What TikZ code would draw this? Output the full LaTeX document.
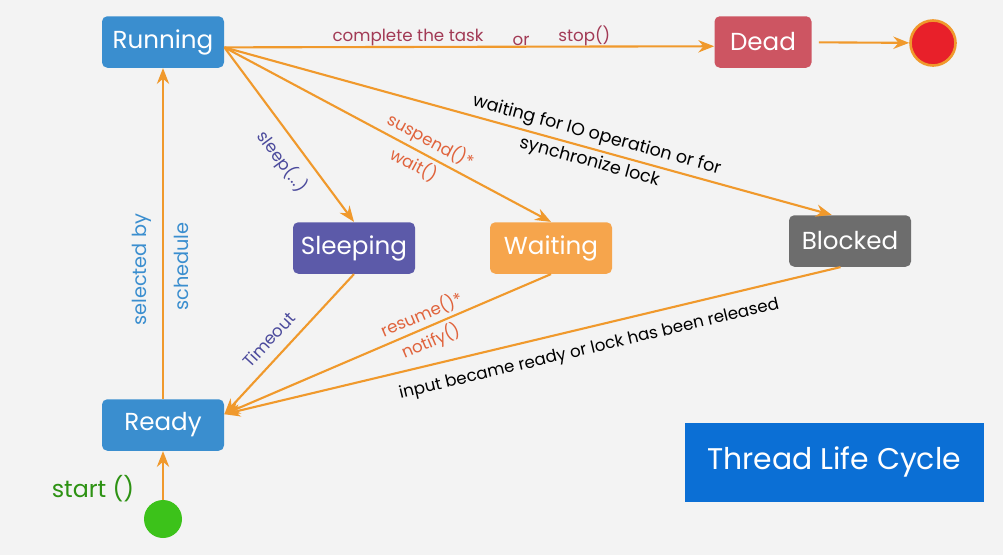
\documentclass[tikz,border=0pt]{standalone}
\usepackage{fontspec}
\setmainfont{Poppins}
\usetikzlibrary{arrows.meta}

\definecolor{bgray}{HTML}{F3F3F3}
\definecolor{runblue}{HTML}{3A8ECF}
\definecolor{deadred}{HTML}{CD5562}
\definecolor{sleeppurple}{HTML}{5C5AA9}
\definecolor{waitorange}{HTML}{F6A54C}
\definecolor{blockgray}{HTML}{6D6D6D}
\definecolor{arrorange}{HTML}{F0992C}
\definecolor{titleblue}{HTML}{0B6FD5}
\definecolor{taskred}{HTML}{A23A55}
\definecolor{suspred}{HTML}{E0633C}
\definecolor{lblpurple}{HTML}{4B4A9C}
\definecolor{startgreen}{HTML}{3CC21A}
\definecolor{endred}{HTML}{E8202A}

\begin{document}
\begin{tikzpicture}[
    state/.style={rectangle, rounded corners=3pt, inner sep=0pt, minimum width=2.44cm, minimum height=1.03cm, text=white, font=\fontsize{14}{16}\selectfont},
    flow/.style={draw=arrorange, line width=1.2pt, -{Stealth[length=9pt,width=7pt]}},
    lbl/.style={font=\fontsize{9.5}{11}\selectfont, inner sep=2pt}
]
    \fill[bgray] (0,0) rectangle (20.06,11.1);

    % states
    \node[state, fill=runblue] (Running) at (3.26,10.26) {Running};
    \node[state, fill=deadred, minimum width=1.94cm] (Dead) at (15.26,10.26) {Dead};
    \node[state, fill=sleeppurple] (Sleeping) at (7.08,6.14) {Sleeping};
    \node[state, fill=waitorange] (Waiting) at (11.02,6.14) {Waiting};
    \node[state, fill=blockgray] (Blocked) at (17.0,6.28) {Blocked};
    \node[state, fill=runblue] (Ready) at (3.26,2.6) {Ready};

    % start and end points
    \node[circle, fill=startgreen, minimum size=0.76cm, inner sep=0pt] (Start) at (3.26,0.72) {};
    \node[circle, fill=endred, draw=arrorange, line width=1.5pt, minimum size=0.9cm, inner sep=0pt] (End) at (18.66,10.24) {};
    \node[text=startgreen!75!black, font=\fontsize{13.5}{16}\selectfont] (startlbl) at (1.86,1.32) {start ()};

    % title
    \node[fill=titleblue, text=white, minimum width=5.98cm, minimum height=1.58cm, font=\fontsize{17}{20}\selectfont] (Title) at (16.68,1.86) {Thread Life Cycle};

    % transitions
    \draw[flow] (Start) -- (Ready);
    \draw[flow] (Ready) -- (Running)
        node[lbl, sloped, above=4pt, pos=0.39, text=runblue, font=\fontsize{11}{13}\selectfont] {selected by}
        node[lbl, sloped, below=4pt, pos=0.40, text=runblue, font=\fontsize{11}{13}\selectfont] {schedule};
    \draw[flow] (Running.-5) -- (Dead.185)
        node[lbl, above, yshift=-2pt, pos=0.375, text=taskred] {complete the task}
        node[lbl, above, yshift=-2pt, pos=0.606, text=taskred] {or}
        node[lbl, above, yshift=-2pt, pos=0.735, text=taskred] {stop()};
    \draw[flow, shorten <=4pt] (Dead) -- (End);
    \draw[flow] (Running.-5) -- (Sleeping.north)
        node[lbl, sloped, below=4pt, pos=0.58, text=lblpurple] {sleep(...)};
    \draw[flow] (Running.-5) -- (Waiting.north)
        node[lbl, sloped, above, pos=0.61, text=suspred] {suspend()*}
        node[lbl, sloped, below, pos=0.60, text=suspred] {wait()};
    \draw[flow] (Running.-5) -- (Blocked.125)
        node[lbl, sloped, above, pos=0.607, font=\fontsize{10}{12}\selectfont] {waiting for IO operation or for}
        node[lbl, sloped, below, pos=0.607, font=\fontsize{10}{12}\selectfont] {synchronize lock};
    \draw[flow] (Sleeping.south) -- (Ready.10)
        node[lbl, sloped, above=4pt, pos=0.555, text=lblpurple] {Timeout};
    \draw[flow] (Waiting.south) -- (Ready.10)
        node[lbl, sloped, above, pos=0.38, text=suspred] {resume()*}
        node[lbl, sloped, below, pos=0.386, text=suspred] {notify()};
    \draw[flow] (Blocked.-110) -- (Ready.10)
        node[lbl, sloped, below=5pt, pos=0.416] {input became ready or lock has been released};
\end{tikzpicture}
\end{document}
